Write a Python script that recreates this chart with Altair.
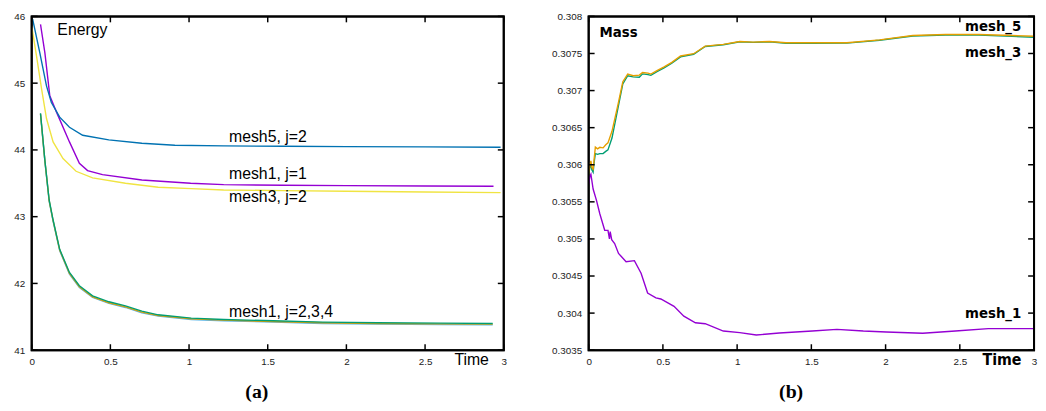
import altair as alt
import pandas as pd

# ---------------- Panel (a): Energy ----------------
t_m5j2 = [0.006, 0.052, 0.094, 0.125, 0.178, 0.24, 0.324, 0.49, 0.70, 0.91, 1.22, 1.6, 2.0, 2.5, 2.98]
E_m5j2 = [45.96, 45.45, 44.96, 44.71, 44.49, 44.34, 44.22, 44.15, 44.10, 44.07, 44.06, 44.055, 44.05, 44.045, 44.04]

t_m1j1 = [0.056, 0.084, 0.115, 0.157, 0.24, 0.303, 0.355, 0.45, 0.70, 1.01, 1.22, 1.6, 2.0, 2.5, 2.935]
E_m1j1 = [45.88, 45.45, 44.81, 44.57, 44.12, 43.80, 43.69, 43.63, 43.55, 43.50, 43.48, 43.47, 43.465, 43.46, 43.455]

t_m3j2 = [0.0, 0.031, 0.063, 0.094, 0.136, 0.199, 0.282, 0.387, 0.596, 0.804, 1.014, 1.22, 1.6, 2.0, 2.5, 2.98]
E_m3j2 = [45.85, 45.40, 44.91, 44.47, 44.12, 43.87, 43.68, 43.58, 43.50, 43.44, 43.42, 43.40, 43.39, 43.38, 43.37, 43.36]

t_m1 = [0.056, 0.084, 0.111, 0.136, 0.178, 0.24, 0.303, 0.387, 0.491, 0.596, 0.70, 0.804, 1.014, 1.22, 1.536, 1.85, 2.2, 2.6, 2.93]
E_m1j2 = [44.55, 43.84, 43.25, 42.95, 42.51, 42.165, 41.965, 41.815, 41.725, 41.665, 41.585, 41.53, 41.48, 41.46, 41.44, 41.42, 41.41, 41.405, 41.40]
E_m1j3 = [44.53, 43.82, 43.23, 42.93, 42.49, 42.14, 41.94, 41.79, 41.70, 41.64, 41.56, 41.51, 41.46, 41.44, 41.42, 41.40, 41.39, 41.385, 41.38]
E_m1j4 = [44.54, 43.83, 43.24, 42.94, 42.50, 42.15, 41.95, 41.80, 41.71, 41.65, 41.57, 41.52, 41.47, 41.45, 41.43, 41.41, 41.40, 41.395, 41.39]

energy_series = ["a1 mesh1 j=3", "a2 mesh1 j=4", "a3 mesh1 j=2", "a4 mesh3 j=2", "a5 mesh1 j=1", "a6 mesh5 j=2"]
energy_colors = ["#56B4E9", "#E69F00", "#009E73", "#F0E442", "#9400D3", "#0072B2"]

energy_labels = ["Energy", "mesh5, j=2", "mesh1, j=1", "mesh3, j=2", "mesh1, j=2,3,4"]
energy_label_t = [0.163, 1.254, 1.254, 1.254, 1.254]
energy_label_E = [45.72, 44.12, 43.56, 43.22, 41.49]

energy_xticks = [0, 0.5, 1, 1.5, 2, 2.5, 3]
energy_yticks = [41, 42, 43, 44, 45, 46]

# ---------------- Panel (b): Mass ----------------
t_mass = [0.0, 0.008, 0.015, 0.022, 0.03, 0.038, 0.045, 0.06, 0.075, 0.097, 0.115, 0.13, 0.157, 0.197, 0.23, 0.263,
          0.30, 0.341, 0.363, 0.40, 0.419, 0.46, 0.508, 0.56, 0.619, 0.707, 0.785, 0.907, 1.018, 1.107, 1.218,
          1.329, 1.506, 1.739, 1.96, 2.183, 2.404, 2.627, 2.85, 3.0]
m_mesh5 = [0.305873, 0.306000, 0.306051, 0.305960, 0.305940, 0.306100, 0.306238, 0.306215, 0.306235, 0.306228,
           0.306270, 0.306295, 0.306451, 0.306808, 0.307119, 0.307222, 0.307200, 0.307208, 0.307243, 0.307235,
           0.307222, 0.307270, 0.307319, 0.307380, 0.307466, 0.307497, 0.307599, 0.307622, 0.307662, 0.307653,
           0.307662, 0.307644, 0.307644, 0.307644, 0.307684, 0.307742, 0.307756, 0.307756, 0.307742, 0.307733]
m_mesh3 = [0.305873, 0.305960, 0.306000, 0.305930, 0.305900, 0.306050, 0.306150, 0.306140, 0.306150, 0.306150,
           0.306180, 0.306200, 0.306360, 0.306760, 0.307090, 0.307200, 0.307185, 0.307180, 0.307225, 0.307215,
           0.307205, 0.307255, 0.307305, 0.307370, 0.307455, 0.307490, 0.307595, 0.307618, 0.307658, 0.307650,
           0.307658, 0.307638, 0.307636, 0.307640, 0.307678, 0.307735, 0.307750, 0.307748, 0.307730, 0.307719]

t_mesh1 = [0.0, 0.008, 0.015, 0.03, 0.053, 0.075, 0.108, 0.13, 0.14, 0.145, 0.155, 0.175, 0.201, 0.252, 0.308,
           0.353, 0.397, 0.453, 0.486, 0.575, 0.641, 0.719, 0.785, 0.907, 1.018, 1.129, 1.284, 1.395, 1.506,
           1.672, 1.85, 2.005, 2.25, 2.47, 2.692, 3.0]
m_mesh1 = [0.305740, 0.305840, 0.305873, 0.305673, 0.305517, 0.305339, 0.305116, 0.305116, 0.305000, 0.305100,
           0.304990, 0.304938, 0.304805, 0.304693, 0.304707, 0.304538, 0.304271, 0.304204, 0.304190, 0.304092,
           0.303959, 0.303870, 0.303857, 0.303758, 0.303737, 0.303705, 0.303731, 0.303745, 0.303758, 0.303781,
           0.303758, 0.303745, 0.303728, 0.303758, 0.303790, 0.303790]

mass_series = ["b1 mesh_1", "b2 mesh_3", "b3 mesh_5"]
mass_colors = ["#9400D3", "#009E73", "#E69F00"]

mass_labels = ["Mass", "mesh_5", "mesh_3", "mesh_1"]
mass_label_t = [0.073, 2.914, 2.914, 2.914]
mass_label_m = [0.30772, 0.30780, 0.307453, 0.303928]

mass_xticks = [0, 0.5, 1, 1.5, 2, 2.5, 3]
mass_yticks = [0.3035, 0.304, 0.3045, 0.305, 0.3055, 0.306, 0.3065, 0.307, 0.3075, 0.308]

# ---------------- build tables ----------------
def long_table(pairs, xname, yname):
    rows = []
    for name, color, ts, vs in pairs:
        for i, (t, v) in enumerate(zip(ts, vs)):
            rows.append({"series": name, "col": color, xname: t, yname: v, "order": i})
    return pd.DataFrame(rows)

energy_df = long_table([
    (energy_series[0], energy_colors[0], t_m1, E_m1j3),
    (energy_series[1], energy_colors[1], t_m1, E_m1j4),
    (energy_series[2], energy_colors[2], t_m1, E_m1j2),
    (energy_series[3], energy_colors[3], t_m3j2, E_m3j2),
    (energy_series[4], energy_colors[4], t_m1j1, E_m1j1),
    (energy_series[5], energy_colors[5], t_m5j2, E_m5j2),
], "t", "E")

mass_df = long_table([
    (mass_series[0], mass_colors[0], t_mesh1, m_mesh1),
    (mass_series[1], mass_colors[1], t_mass, m_mesh3),
    (mass_series[2], mass_colors[2], t_mass, m_mesh5),
], "t", "m")

SANS = "Liberation Sans, Arial, Helvetica, sans-serif"
COND = "Liberation Sans Narrow, DejaVu Sans Condensed, Roboto Condensed, sans-serif"
SERIF = "Liberation Serif, Times New Roman, serif"

W_A, H = 478, 338
W_B = 451
TICK = 6


def panel(df, yname, xdom, ydom, xticks, yticks, width,
          labels, label_t, label_v, label_align, label_font, label_weight, label_size,
          time_font, time_weight, time_x, caption, caption_x):
    xs = alt.Scale(domain=xdom, nice=False, zero=False)
    ys = alt.Scale(domain=ydom, nice=False, zero=False)
    common = dict(grid=False, domain=False, ticks=False, tickSize=0, labelOverlap=False,
                  labelFlush=False, labelPadding=7, labelFont=SANS, labelFontSize=10,
                  labelColor="#222", labelSeparation=0)
    x_axis = alt.Axis(values=xticks, format="~f", title="Time", titleX=time_x, titleY=15,
                      titleAlign="center", titleBaseline="alphabetic", titleFont=time_font,
                      titleFontSize=16, titleFontWeight=time_weight, titleColor="black", **common)
    y_axis = alt.Axis(values=yticks, format="~f", title=None, **common)

    X = lambda: alt.X("t:Q", scale=xs, axis=x_axis)
    Y = lambda: alt.Y(f"{yname}:Q", scale=ys, axis=y_axis)

    lines = alt.Chart(df).mark_line(strokeWidth=1.4, clip=True).encode(
        x=X(), y=Y(),
        color=alt.Color("col:N", scale=None),
        detail="series:N",
        order="order:Q",
    )

    frame = alt.Chart(pd.DataFrame({"k": [0]})).mark_rect(
        fill="transparent", fillOpacity=0, stroke="#000000", strokeOpacity=1, strokeWidth=2).encode(
        x=alt.value(0), x2=alt.value(width), y=alt.value(0), y2=alt.value(H))

    xt = pd.DataFrame({"t": xticks})
    yt = pd.DataFrame({yname: yticks})
    rule_style = dict(color="#000000", stroke="#000000", strokeOpacity=1, opacity=1, strokeWidth=1.5)
    xb = alt.Chart(xt).mark_rule(**rule_style).encode(
        x=X(), y=alt.value(H), y2=alt.value(H - TICK))
    xtp = alt.Chart(xt).mark_rule(**rule_style).encode(
        x=X(), y=alt.value(0), y2=alt.value(TICK))
    yl = alt.Chart(yt).mark_rule(**rule_style).encode(
        y=Y(), x=alt.value(0), x2=alt.value(TICK))
    yr = alt.Chart(yt).mark_rule(**rule_style).encode(
        y=Y(), x=alt.value(width), x2=alt.value(width - TICK))

    lab_df = pd.DataFrame({"text": labels, "t": label_t, yname: label_v, "align": label_align})
    layers = [lines, frame, xb, xtp, yl, yr]
    for al in sorted(set(label_align)):
        sub = lab_df[lab_df["align"] == al]
        layers.append(alt.Chart(sub).mark_text(
            align=al, baseline="alphabetic", font=label_font, fontSize=label_size,
            fontWeight=label_weight, color="black").encode(
            x=X(), y=Y(), text="text:N"))

    cap = alt.Chart(pd.DataFrame({"text": [caption]})).mark_text(
        align="center", baseline="alphabetic", font=SERIF, fontSize=20, fontWeight="bold",
        color="black").encode(x=alt.value(caption_x), y=alt.value(386), text="text:N")
    layers.append(cap)

    return alt.layer(*layers).properties(
        width=width, height=H,
        view=alt.ViewBackground(stroke="#000000", strokeWidth=2),
    )


left = panel(energy_df, "E", [0, 3], [41, 46], energy_xticks, energy_yticks, W_A,
             energy_labels, energy_label_t, energy_label_E, ["left"] * 5, SANS, "normal", 16,
             SANS, "normal", 445, "(a)", 228)

right = panel(mass_df, "m", [0, 3], [0.3035, 0.308], mass_xticks, mass_yticks, W_B,
              mass_labels, mass_label_t, mass_label_m, ["left", "right", "right", "right"], COND, "bold", 15,
              COND, "bold", 418, "(b)", 205)

chart = alt.hconcat(left, right, spacing=43).properties(
    padding={"left": 4, "top": 0, "right": 0, "bottom": 0}
).configure_view(
    stroke="#000000", strokeWidth=2
).configure_axis(
    labelOverlap=False, grid=False
)

chart.save("out.html", embed_options={"renderer": "svg", "actions": False})
